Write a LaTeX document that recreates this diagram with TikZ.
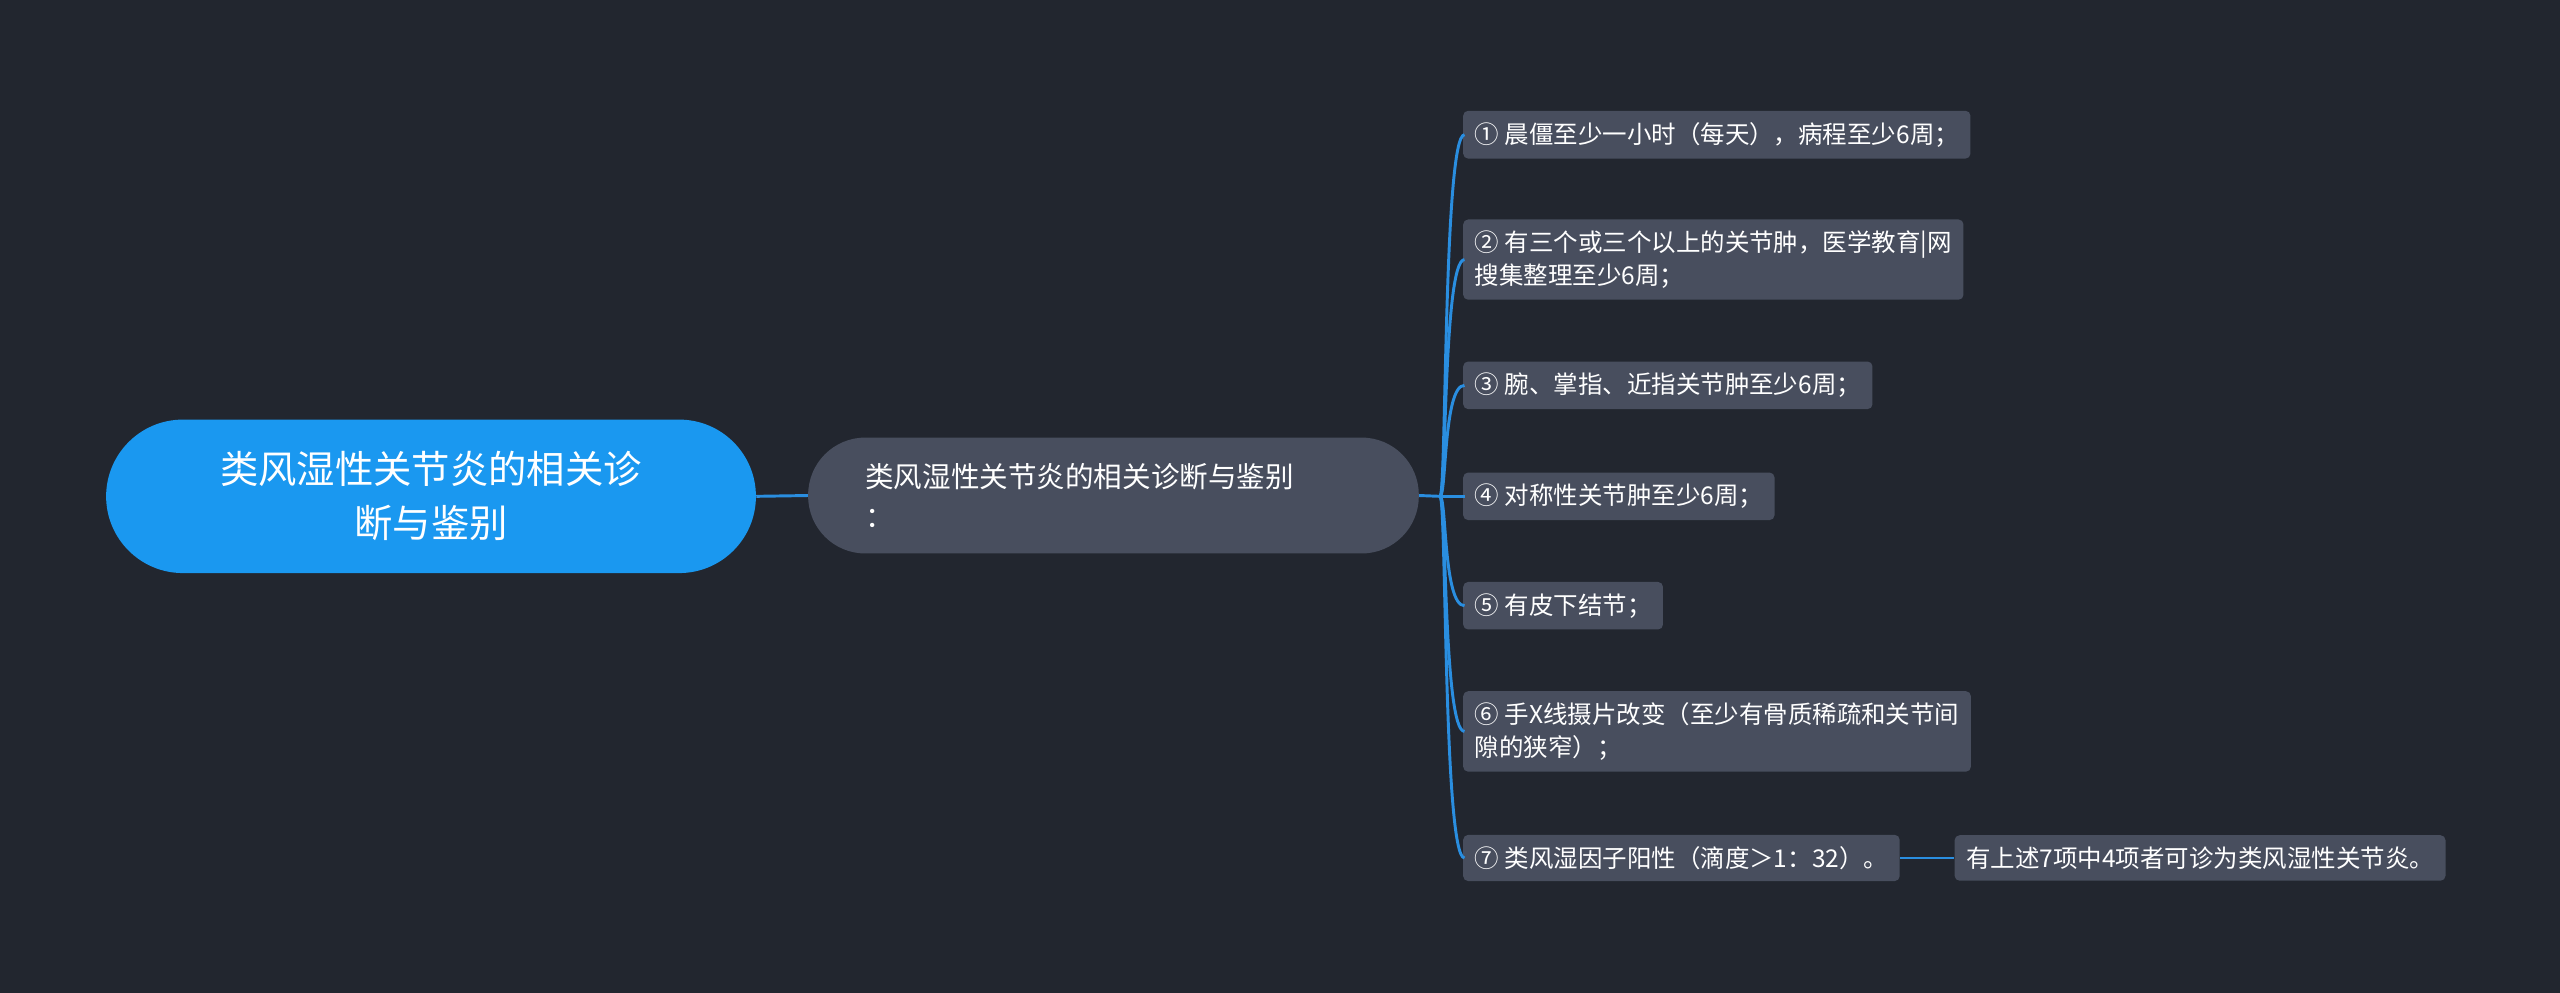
\documentclass[tikz,border=0pt]{standalone}
\usepackage{fontspec}
\setmainfont{Noto Sans CJK SC}
\begin{document}
\begin{tikzpicture}[x=1pt,y=-1pt,
  leaf/.style={fill=leafc,rounded corners=3pt,text=white,font=\fontsize{15}{20}\selectfont,inner xsep=7pt,inner ysep=7pt,anchor=west,align=left},
  conn/.style={draw=linec,line width=1.8pt}]
\definecolor{bg}{HTML}{22262F}
\definecolor{rootc}{HTML}{1A98F0}
\definecolor{midc}{HTML}{484E5E}
\definecolor{leafc}{HTML}{484E5E}
\definecolor{linec}{HTML}{2A8EE0}
\fill[bg] (0,0) rectangle (1568,608);
\useasboundingbox (0,0) rectangle (1568,608);
\node[fill=rootc,rounded corners=47pt,minimum width=398pt,minimum height=94pt,text=white,align=center,font=\fontsize{23.5}{33}\selectfont] (root) at (264,304) {类风湿性关节炎的相关诊\\断与鉴别};
\node[fill=midc,rounded corners=35pt,minimum width=374pt,minimum height=71pt,text=white,align=left,text width=304pt,font=\fontsize{17.5}{25}\selectfont] (mid) at (682,303.5) {类风湿性关节炎的相关诊断与鉴别\\：};
\node[leaf] (l1) at (896,82.5) {① 晨僵至少一小时（每天），病程至少6周；};
\node[leaf] (l2) at (896,159) {② 有三个或三个以上的关节肿，医学教育|网\\搜集整理至少6周；};
\node[leaf] (l3) at (896,236) {③ 腕、掌指、近指关节肿至少6周；};
\node[leaf] (l4) at (896,304) {④ 对称性关节肿至少6周；};
\node[leaf] (l5) at (896,371) {⑤ 有皮下结节；};
\node[leaf] (l6) at (896,448) {⑥ 手X线摄片改变（至少有骨质稀疏和关节间\\隙的狭窄）；};
\node[leaf] (l7) at (896,525.5) {⑦ 类风湿因子阳性（滴度＞1：32）。};
\node[leaf] (l8) at (1197,525.5) {有上述7项中4项者可诊为类风湿性关节炎。};
\draw[conn] (root.east) -- (mid.west);
\coordinate (j) at (882,304);
\coordinate (cx) at (884,0);
\draw[conn] (mid.east) -- (j);
\foreach \n in {l1,l2,l3,l4,l5,l6,l7}{
  \draw[conn] (j) .. controls (886,304) and (cx |- \n.west) .. ([xshift=1pt]\n.west);
}
\draw[conn] (l7.east) -- (l8.west);
\end{tikzpicture}
\end{document}
